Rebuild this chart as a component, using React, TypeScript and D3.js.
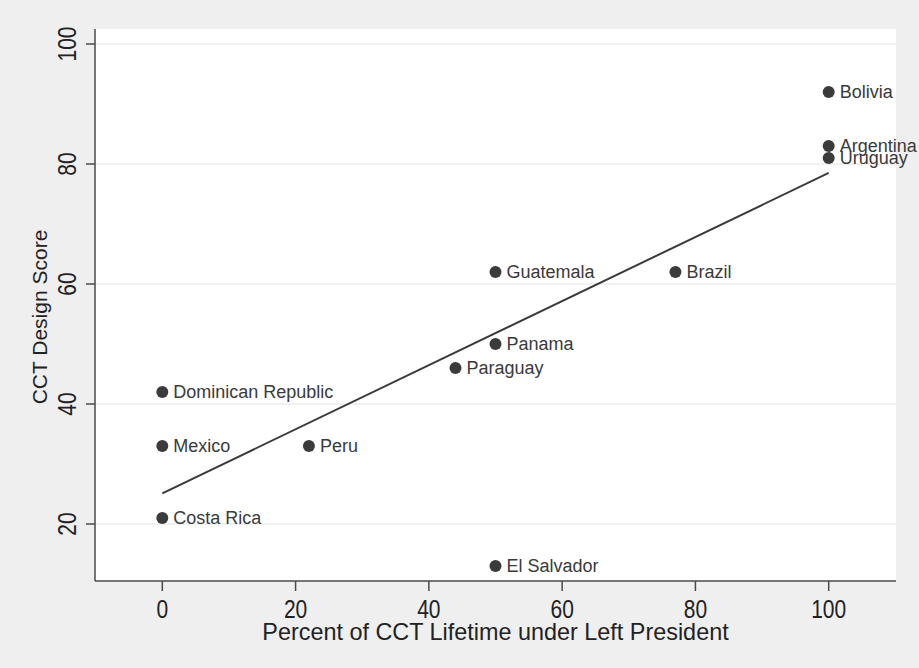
import { useEffect, useRef } from 'react';
import * as d3 from 'd3';

const COUNTRIES = [
  'Bolivia', 'Argentina', 'Uruguay', 'Brazil', 'Guatemala', 'Panama',
  'Paraguay', 'Peru', 'Dominican Republic', 'Mexico', 'Costa Rica', 'El Salvador',
];
const LEFT_PCT = [100, 100, 100, 77, 50, 50, 44, 22, 0, 0, 0, 50];
const DESIGN_SCORE = [92, 83, 81, 62, 62, 50, 46, 33, 42, 33, 21, 13];
const X_TICKS = [0, 20, 40, 60, 80, 100];
const Y_TICKS = [20, 40, 60, 80, 100];

export default function App() {
  const svgRef = useRef<SVGSVGElement>(null);

  useEffect(() => {
    if (!svgRef.current) return;
    const width = 919;
    const height = 668;
    const plot = { left: 95, right: 896, top: 29, bottom: 581 };

    const svg = d3.select(svgRef.current);
    svg.selectAll('*').remove();

    svg.append('rect').attr('width', width).attr('height', height).attr('fill', '#efefef');
    svg.append('rect')
      .attr('x', plot.left).attr('y', plot.top)
      .attr('width', plot.right - plot.left).attr('height', plot.bottom - plot.top)
      .attr('fill', '#ffffff');

    const x = d3.scaleLinear().domain([-10.1, 110.1]).range([plot.left, plot.right]);
    const y = d3.scaleLinear().domain([10.5, 102.5]).range([plot.bottom, plot.top]);

    // grid
    svg.append('g').selectAll('line').data(Y_TICKS).join('line')
      .attr('x1', plot.left).attr('x2', plot.right)
      .attr('y1', d => y(d)).attr('y2', d => y(d))
      .attr('stroke', '#ececec').attr('stroke-width', 1.5);

    // axes
    const axisColor = '#4a4a4a';
    svg.append('line')
      .attr('x1', plot.left).attr('x2', plot.left).attr('y1', plot.top).attr('y2', plot.bottom)
      .attr('stroke', axisColor).attr('stroke-width', 1.5);
    svg.append('line')
      .attr('x1', plot.left).attr('x2', plot.right).attr('y1', plot.bottom).attr('y2', plot.bottom)
      .attr('stroke', axisColor).attr('stroke-width', 1.5);

    svg.append('g').selectAll('line').data(Y_TICKS).join('line')
      .attr('x1', plot.left - 9).attr('x2', plot.left)
      .attr('y1', d => y(d)).attr('y2', d => y(d))
      .attr('stroke', axisColor).attr('stroke-width', 1.5);
    svg.append('g').selectAll('line').data(X_TICKS).join('line')
      .attr('x1', d => x(d)).attr('x2', d => x(d))
      .attr('y1', plot.bottom).attr('y2', plot.bottom + 10)
      .attr('stroke', axisColor).attr('stroke-width', 1.5);

    const font = 'Liberation Sans, Arial, Helvetica, sans-serif';
    // tick labels are narrow and tall in the original, so squeeze them along the text direction
    svg.append('g').selectAll('text').data(Y_TICKS).join('text')
      .attr('transform', d => `translate(76,${y(d)}) rotate(-90) scale(0.84,1)`)
      .attr('text-anchor', 'middle')
      .attr('font-family', font).attr('font-size', 25).attr('fill', '#222')
      .text(d => d);
    svg.append('g').selectAll('text').data(X_TICKS).join('text')
      .attr('transform', d => `translate(${x(d)},618) scale(0.84,1)`)
      .attr('text-anchor', 'middle')
      .attr('font-family', font).attr('font-size', 25).attr('fill', '#222')
      .text(d => d);

    svg.append('text')
      .attr('x', (plot.left + plot.right) / 2).attr('y', 640)
      .attr('text-anchor', 'middle')
      .attr('font-family', font).attr('font-size', 23.4).attr('fill', '#222')
      .text('Percent of CCT Lifetime under Left President');
    svg.append('text')
      .attr('transform', `translate(47,317) rotate(-90)`)
      .attr('text-anchor', 'middle')
      .attr('font-family', font).attr('font-size', 21).attr('fill', '#222')
      .text('CCT Design Score');

    // least squares fit line
    const mx = d3.mean(LEFT_PCT)!;
    const my = d3.mean(DESIGN_SCORE)!;
    let sxy = 0, sxx = 0;
    LEFT_PCT.forEach((v, i) => {
      sxy += (v - mx) * (DESIGN_SCORE[i] - my);
      sxx += (v - mx) * (v - mx);
    });
    const slope = sxy / sxx;
    const intercept = my - slope * mx;
    const [x0, x1] = d3.extent(LEFT_PCT) as [number, number];
    svg.append('path')
      .attr('d', d3.line<number>().x(d => x(d)).y(d => y(intercept + slope * d))([x0, x1]))
      .attr('stroke', '#3a3a3a').attr('stroke-width', 2).attr('fill', 'none');

    const pts = COUNTRIES.map((name, i) => ({ name, px: LEFT_PCT[i], sc: DESIGN_SCORE[i] }));
    svg.append('g').selectAll('circle').data(pts).join('circle')
      .attr('cx', d => x(d.px)).attr('cy', d => y(d.sc)).attr('r', 6)
      .attr('fill', '#3b3b3b');
    svg.append('g').selectAll('text').data(pts).join('text')
      .attr('x', d => x(d.px) + 11).attr('y', d => y(d.sc))
      .attr('dy', '0.35em')
      .attr('font-family', font).attr('font-size', 18).attr('fill', '#3a3a3a')
      .text(d => d.name);
  }, []);

  return (
    <svg ref={svgRef} width={919} height={668}
      style={{ position: 'absolute', left: 0, top: 0, display: 'block' }} />
  );
}
